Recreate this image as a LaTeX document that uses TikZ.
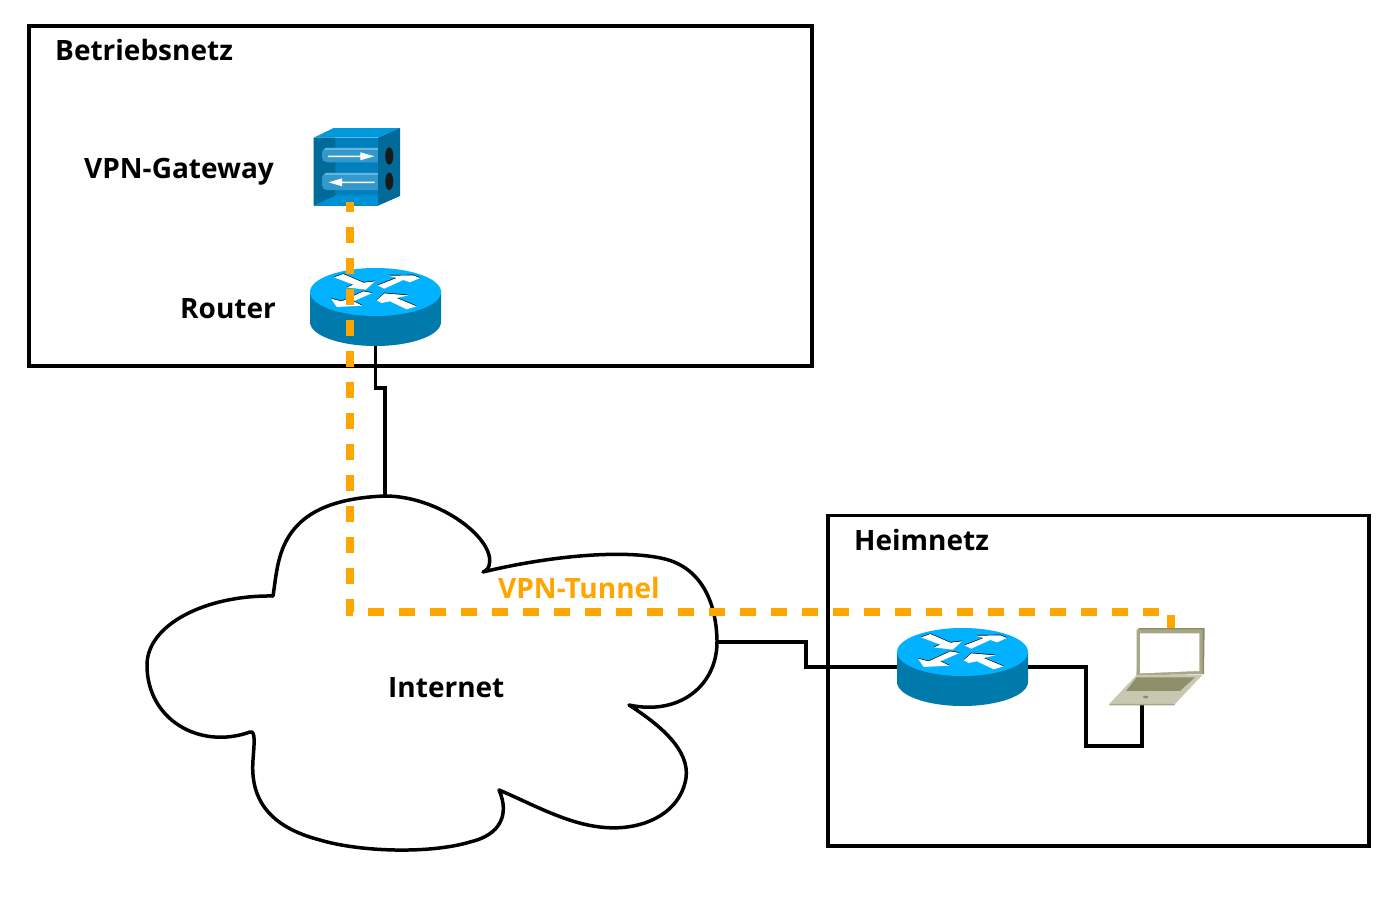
\documentclass[tikz,border=0pt]{standalone}
\usepackage{fontspec}
\setmainfont{Open Sans}
\definecolor{tunnel}{HTML}{FFA500}
\definecolor{rtop}{HTML}{00B2FF}
\definecolor{rside}{HTML}{0079AB}
\definecolor{gtop}{HTML}{0099DC}
\definecolor{gdark}{HTML}{006A98}
\definecolor{gmid}{HTML}{0080BF}
\definecolor{gfloor}{HTML}{0090D4}
\definecolor{gtube}{HTML}{3399CC}
\definecolor{gtubel}{HTML}{66B5DC}
\definecolor{lframe}{HTML}{A8A888}
\definecolor{lshade}{HTML}{8A8A6C}
\definecolor{lbase}{HTML}{C8C8B0}
\definecolor{lkeys}{HTML}{8F8F6B}
\tikzset{
  zone/.style={draw=black,line width=3.5pt,fill=white},
  wire/.style={draw=black,line width=3.5pt,line join=miter},
  vpn/.style={draw=tunnel,line width=8pt,dash pattern=on 15.5pt off 15.5pt,line join=miter},
  lab/.style={font=\fontsize{28}{32}\selectfont\bfseries,anchor=base west,inner sep=0pt,text=black},
  rarrow/.style={fill=white,draw=none},
}
\newcommand{\routericon}[2]{%
\begin{scope}[shift={(#1,#2)}]
  \fill[rside] (310,292) -- (310,322) arc[start angle=180,end angle=0,x radius=65.5,y radius=24] -- (441,292) -- cycle;
  \fill[rtop] (375.5,292) ellipse[x radius=65.5,y radius=24];
  \begin{scope}[shift={(325,268)},x=0.3333pt,y=-0.3333pt]
    \fill[black] (27,26)--(55,16)--(115,42)--(150,38)--(122,63)--(65,56)--(85,48)--cycle;
    \fill[rarrow] (27,28)--(55,18)--(115,44)--(150,40)--(122,65)--(65,58)--(85,50)--cycle;
    \fill[black] (158,50)--(215,28)--(190,21)--(265,20)--(285,28)--(255,41)--(235,34)--(178,60)--cycle;
    \fill[rarrow] (158,52)--(215,30)--(190,23)--(265,22)--(285,30)--(255,43)--(235,36)--(178,62)--cycle;
    \fill[black] (115,68)--(142,73)--(85,98)--(112,111)--(35,115)--(18,90)--(50,98)--cycle;
    \fill[rarrow] (115,70)--(142,75)--(85,100)--(112,113)--(35,117)--(18,92)--(50,100)--cycle;
    \fill[black] (155,95)--(178,74)--(250,80)--(215,88)--(275,113)--(245,122)--(195,98)--(170,103)--cycle;
    \fill[rarrow] (155,97)--(178,76)--(250,82)--(215,90)--(275,115)--(245,124)--(195,100)--(170,105)--cycle;
  \end{scope}
\end{scope}}
\begin{document}
\begin{tikzpicture}[x=1pt,y=-1pt]
\useasboundingbox (0,0) rectangle (1398,907);
\fill[white] (0,0) rectangle (1398,907);
% zones
\path[zone] (29,26) rectangle (812,366);
\path[zone] (828,515.5) rectangle (1369,846);
% anchors
\coordinate (rA) at (375.5,346);
\coordinate (rAk1) at (375.5,388);
\coordinate (rAk2) at (385,388);
\coordinate (cloudTop) at (385,496);
\coordinate (cloudRight) at (717,642);
\coordinate (k1) at (806,642);
\coordinate (k2) at (806,667);
\coordinate (rBl) at (897,667);
\coordinate (rBr) at (1028,667);
\coordinate (k3) at (1086,667);
\coordinate (k4) at (1086,746);
\coordinate (k5) at (1142,746);
\coordinate (lapB) at (1142,705);
\coordinate (vA) at (350,202);
\coordinate (vC) at (350,612);
\coordinate (vD) at (1171,612);
\coordinate (vE) at (1171,628);
% connectors
\path[wire] (rA) -- (rAk1) -- (rAk2) -- (cloudTop);
\path[wire] (cloudRight) -- (k1) -- (k2) -- (rBl);
\path[wire] (rBr) -- (k3) -- (k4) -- (k5) -- (lapB);
% cloud
\draw[line width=3.5pt,fill=white,line join=round]
 (273,596) .. controls (279,560) and (276,500) .. (385,496)
 .. controls (440,496) and (497,540) .. (489,566)
 .. controls (487,571) and (483,572) .. (483,572)
 .. controls (540,558) and (620,548) .. (665,559)
 .. controls (700,568) and (716,600) .. (717,640)
 .. controls (718,685) and (680,716) .. (629,705)
 .. controls (660,725) and (690,750) .. (686,778)
 .. controls (680,815) and (640,832) .. (600,827)
 .. controls (565,823) and (530,803) .. (499,790)
 .. controls (510,815) and (500,835) .. (470,842)
 .. controls (430,854) and (360,852) .. (320,840)
 .. controls (270,827) and (250,800) .. (253,760)
 .. controls (254,745) and (256,730) .. (250,732)
 .. controls (200,750) and (147,720) .. (147,665)
 .. controls (147,625) and (205,595) .. (273,596) -- cycle;
% gateway
\fill[gtop] (313.7,137.7)--(333.7,128)--(400,128)--(378,137.7)--cycle;
\fill[gmid] (313.7,137.7) rectangle (378,205.7);
\fill[gdark] (313.7,137.7)--(335.3,137.7)--(335.3,195.7)--(313.7,205.7)--cycle;
\fill[gfloor] (335.3,195.7)--(378,195.7)--(378,205.7)--(313.7,205.7)--cycle;
\fill[gtube,rounded corners=5pt] (322,147.7) rectangle (390,162.3);
\fill[gtube,rounded corners=5pt] (322,172.7) rectangle (390,190);
\fill[gdark] (378,137.7)--(400,128)--(400,196)--(378,205.7)--cycle;
\fill[gtubel] (325,147.7) rectangle (378,149.5);
\fill[gtubel] (325,172.7) rectangle (378,174.5);
\fill[white] (328,155.5)--(360.3,155.5)--(360.3,152.3)--(374.3,156.3)--(360.3,160.3)--(360.3,157)--(328,157)--cycle;
\fill[white] (374.7,181.5)--(342,181.5)--(342,178.3)--(328.7,182.3)--(342,186.3)--(342,183)--(374.7,183)--cycle;
\fill[black!90] (389.3,156) ellipse[x radius=4,y radius=8.7];
\fill[black!90] (389.3,181.3) ellipse[x radius=4,y radius=8.7];
% routers
\routericon{0}{0}
\routericon{587}{360}
% laptop
\begin{scope}[shift={(1090,600)},x=0.3333pt,y=-0.3333pt]
  \fill[lshade] (145,84)--(344,84)--(342,222)--(140,225)--cycle;
  \fill[lframe] (140,88)--(338,88)--(338,222)--(140,225)--cycle;
  \fill[white] (150,100)--(328,100)--(328,213)--(150,220)--cycle;
  \fill[lbase] (140,225)--(337,225)--(255,312)--(58,312)--cycle;
  \fill[lframe] (58,312)--(255,312)--(253,316)--(58,316)--cycle;
  \fill[lkeys] (140,232)--(315,232)--(270,273)--(108,273)--cycle;
  \fill[lshade] (167,291) ellipse[x radius=8,y radius=4];
\end{scope}
% tunnel
\path[vpn,dash phase=6pt] (vA) -- (vC) -- (vD) -- (vE);
% labels
\node[lab] (t1) at (55,61) {Betriebsnetz};
\node[lab] (t2) at (84,178) {VPN-Gateway};
\node[lab] (t3) at (180,318) {Router};
\node[lab] (t4) at (388,697) {Internet};
\node[lab] (t5) at (854,550) {Heimnetz};
\node[lab,text=tunnel] (t6) at (498,598) {VPN-Tunnel};
\end{tikzpicture}
\end{document}
